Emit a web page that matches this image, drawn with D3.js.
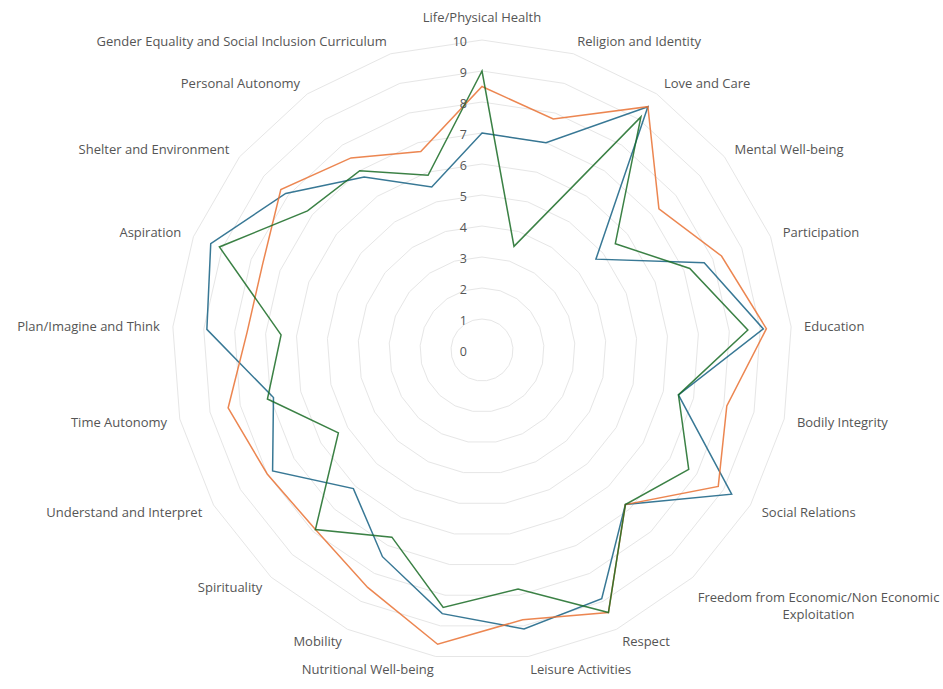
<!DOCTYPE html>
<html>
<head>
<meta charset="utf-8">
<script src="https://cdn.jsdelivr.net/npm/d3@7"></script>
<style>
  html, body { margin: 0; padding: 0; background: #ffffff; }
  svg { display: block; }
  text { font-family: "Open Sans", "Noto Sans", sans-serif; fill: #555555; }
</style>
</head>
<body>
<svg id="chart" width="943" height="689"></svg>
<script>
const categories = [
  "Life/Physical Health", "Religion and Identity", "Love and Care", "Mental Well-being",
  "Participation", "Education", "Bodily Integrity", "Social Relations",
  "Freedom from Economic/Non Economic Exploitation", "Respect", "Leisure Activities",
  "Nutritional Well-being", "Mobility", "Spirituality", "Understand and Interpret",
  "Time Autonomy", "Plan/Imagine and Think", "Aspiration", "Shelter and Environment",
  "Personal Autonomy", "Gender Equality and Social Inclusion Curriculum"
];
const seriesBlue   = [7.0, 7.0, 9.5, 4.7, 7.7, 9.1, 6.5, 9.3, 6.8, 8.9, 9.1, 8.6, 7.4, 6.1, 7.8, 6.9, 8.9, 9.4, 8.1, 6.75, 5.5];
const seriesOrange = [8.5, 7.8, 9.5, 7.3, 8.3, 9.2, 8.1, 8.8, 6.8, 9.4, 8.8, 9.6, 8.5, 7.9, 8.0, 8.4, 7.6, 7.6, 8.3, 7.5, 6.7];
const seriesGreen  = [9.0, 3.5, 9.1, 5.5, 7.2, 8.6, 6.5, 7.7, 6.8, 9.4, 7.8, 8.4, 6.7, 7.9, 5.35, 7.1, 6.5, 9.1, 7.2, 7.0, 5.9];
const tickValues = [0, 1, 2, 3, 4, 5, 6, 7, 8, 9, 10];

const series = [
  { values: seriesBlue,   color: "#156082" },
  { values: seriesOrange, color: "#E97132" },
  { values: seriesGreen,  color: "#196B24" }
];

const svg = d3.select("#chart");
const cx = 482, cy = 350;
const n = categories.length;
const r = d3.scaleLinear().domain([0, 10]).range([0, 310]);
const angle = d3.scaleLinear().domain([0, n]).range([0, 2 * Math.PI]);

const g = svg.append("g").attr("transform", `translate(${cx},${cy})`);

// gridlines
const radial = d3.lineRadial().angle((d, i) => angle(i)).radius(d => r(d)).curve(d3.curveLinearClosed);
tickValues.filter(v => v > 0).forEach(v => {
  g.append("path")
    .attr("d", radial(categories.map(() => v)))
    .attr("fill", "none")
    .attr("stroke", "#E6E6E6")
    .attr("stroke-width", 1);
});

// series
series.forEach(s => {
  g.append("path")
    .attr("d", radial(s.values))
    .attr("fill", "none")
    .attr("stroke", s.color)
    .attr("stroke-opacity", 0.85)
    .attr("stroke-width", 1.5)
    .attr("stroke-linejoin", "miter");
});

// tick labels
g.selectAll("text.tick").data(tickValues).join("text")
  .attr("class", "tick")
  .attr("x", -15)
  .attr("y", d => -r(d) + 1)
  .attr("text-anchor", "end")
  .attr("dominant-baseline", "central")
  .attr("font-size", 12.5)
  .text(d => d);

// category labels
const LR = 323;
const FS = 13;
categories.forEach((c, i) => {
  const a = angle(i);
  const s = Math.sin(a), co = Math.cos(a);
  const ax = s * LR, ay = -co * LR;
  if (i === 0) {
    g.append("text").attr("x", 0).attr("y", -333)
      .attr("text-anchor", "middle").attr("dominant-baseline", "central")
      .attr("font-size", FS).text(c);
  } else if (c.startsWith("Freedom")) {
    const t1 = g.append("text").attr("x", ax - 4).attr("y", ay + 10)
      .attr("text-anchor", "start").attr("dominant-baseline", "central")
      .attr("font-size", FS).text("Freedom from Economic/Non Economic");
    const w = t1.node().getComputedTextLength();
    g.append("text").attr("x", ax - 4 + w / 2).attr("y", ay + 27)
      .attr("text-anchor", "middle").attr("dominant-baseline", "central")
      .attr("font-size", FS).text("Exploitation");
  } else {
    g.append("text").attr("x", ax).attr("y", ay)
      .attr("text-anchor", s > 0 ? "start" : "end")
      .attr("dominant-baseline", "central")
      .attr("font-size", FS).text(c);
  }
});
</script>
</body>
</html>
